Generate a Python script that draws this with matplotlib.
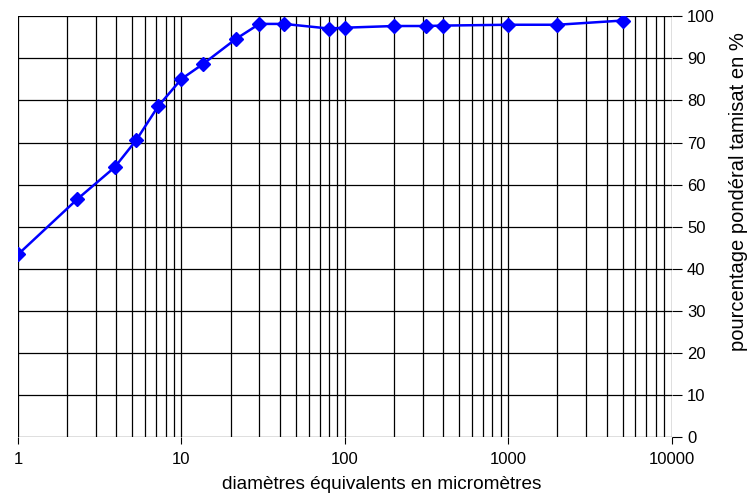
import matplotlib.pyplot as plt
from matplotlib.ticker import LogLocator, FixedLocator, NullFormatter

plt.rcParams['font.family'] = ['Liberation Sans', 'DejaVu Sans']

# diamètres (micromètres) et pourcentage tamisat
diametres = [1, 2.3, 3.9, 5.3, 7.2, 10, 13.6, 21.5, 30, 42.5, 80, 100, 200, 315, 400, 1000, 2000, 5000]
tamisat = [43.4, 56.5, 64.1, 70.6, 78.6, 85.1, 88.7, 94.6, 98.2, 98.2, 97.1, 97.3, 97.7, 97.7, 97.8, 98.0, 98.0, 99.0]
xticks = [1, 10, 100, 1000, 10000]
xticklabels = ['1', '10', '100', '1000', '10000']
yticks = list(range(0, 101, 10))

fig = plt.figure(figsize=(7.48, 4.95), dpi=100)
ax = fig.add_axes([0.024, 0.117, 0.874, 0.85])

ax.plot(diametres, tamisat, color='#0000ff', lw=1.8, marker='D', ms=7, zorder=3)

ax.set_xscale('log')
ax.set_xlim(1, 10000)
ax.set_ylim(0, 100)
ax.xaxis.set_major_locator(FixedLocator(xticks))
ax.set_xticklabels(xticklabels)
ax.xaxis.set_minor_locator(LogLocator(base=10, subs=range(2, 10)))
ax.xaxis.set_minor_formatter(NullFormatter())
ax.set_yticks(yticks)
ax.yaxis.tick_right()

ax.grid(True, which='major', color='black', lw=0.9)
ax.grid(True, which='minor', axis='x', color='black', lw=0.9)
ax.tick_params(axis='x', which='major', direction='out', length=5, labelsize=12, pad=6)
ax.tick_params(axis='x', which='minor', length=0)
ax.tick_params(axis='y', direction='out', length=7, labelsize=12, pad=4)
for s in ['left', 'top', 'right', 'bottom']:
    ax.spines[s].set_visible(False)

# titres des axes
fig.text(382 / 748, 0.021, 'diamètres équivalents en micromètres', fontsize=13.7,
         ha='center', va='center')
fig.text(739 / 748, 1 - 192 / 495, 'pourcentage pondéral tamisat en %', fontsize=14.5,
         rotation=90, ha='center', va='center')

fig.savefig('out.png', dpi=100)
